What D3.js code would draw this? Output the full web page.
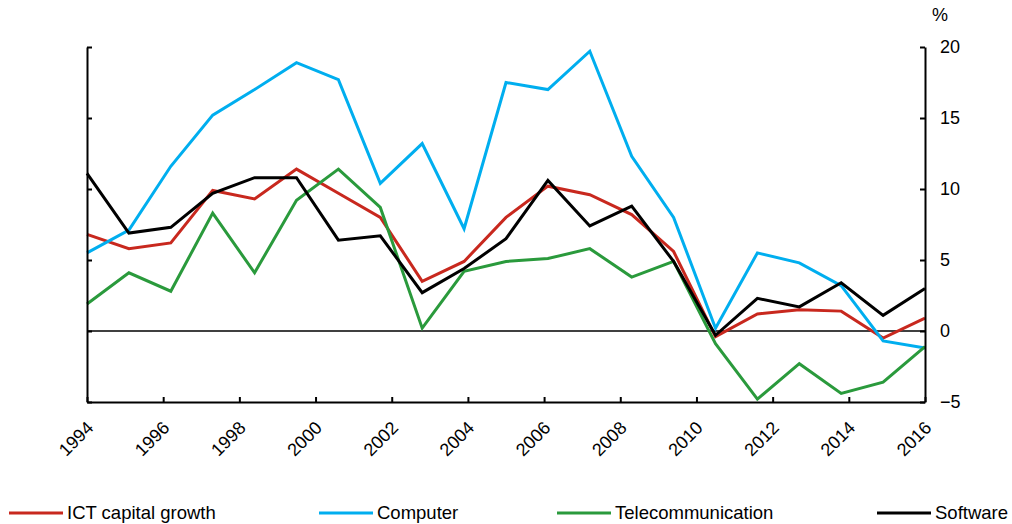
<!DOCTYPE html>
<html>
<head>
<meta charset="utf-8">
<script src="https://cdn.jsdelivr.net/npm/d3@7"></script>
<style>
  body { margin: 0; background: #fff; }
  text { font-family: "Liberation Sans", Arial, sans-serif; }
</style>
</head>
<body>
<script>
const width = 1012;
const height = 524;

// 21 observations, spread evenly over the 1994-2016 axis
const obsIndex = d3.range(21);

const ict = [6.8, 5.8, 6.2, 9.9, 9.3, 11.4, 9.7, 8.0, 3.5, 4.9, 8.0,
             10.2, 9.6, 8.2, 5.6, -0.4, 1.2, 1.5, 1.4, -0.5, 0.9];
const computer = [5.5, 7.1, 11.6, 15.2, 17.0, 18.9, 17.7, 10.4, 13.2, 7.2, 17.5,
                  17.0, 19.7, 12.3, 8.0, 0.2, 5.5, 4.8, 3.2, -0.7, -1.2];
const telecom = [1.9, 4.1, 2.8, 8.3, 4.1, 9.2, 11.4, 8.7, 0.2, 4.2, 4.9,
                 5.1, 5.8, 3.8, 4.9, -0.9, -4.8, -2.3, -4.4, -3.6, -1.1];
const software = [11.1, 6.9, 7.3, 9.7, 10.8, 10.8, 6.4, 6.7, 2.7, 4.4, 6.5,
                  10.6, 7.4, 8.8, 4.9, -0.3, 2.3, 1.7, 3.4, 1.1, 3.0];

const yearTicks = [1994, 1996, 1998, 2000, 2002, 2004, 2006, 2008, 2010, 2012, 2014, 2016];
const valueTicks = [20, 15, 10, 5, 0, -5];

const seriesNames = ["ICT capital growth", "Computer", "Telecommunication", "Software"];
const seriesValues = [ict, computer, telecom, software];
const seriesColors = ["#c8281e", "#00aeef", "#2a9a3c", "#000000"];

const plotLeft = 87, plotRight = 925, plotTop = 47, plotBottom = 402;

const svg = d3.select('body')
  .append('svg')
  .attr('width', width)
  .attr('height', height);

const xYear = d3.scaleLinear().domain([1994, 2016]).range([plotLeft, plotRight]);
const xObs = d3.scaleLinear().domain([0, 20]).range([plotLeft, plotRight]);
const y = d3.scaleLinear().domain([-5, 20]).range([plotBottom, plotTop]);

// zero line
svg.append("line")
  .attr("x1", plotLeft).attr("x2", plotRight)
  .attr("y1", y(0)).attr("y2", y(0))
  .attr("stroke", "#000")
  .attr("stroke-width", 1.5);

// series lines
const line = d3.line()
  .x((d, i) => xObs(obsIndex[i]))
  .y(d => y(d));

svg.append("g")
  .selectAll("path")
  .data(seriesValues)
  .enter().append("path")
  .attr("d", d => line(d))
  .attr("fill", "none")
  .attr("stroke", (d, i) => seriesColors[i])
  .attr("stroke-width", 3)
  .attr("stroke-linejoin", "miter");

// axes
const xAxis = svg.append("g")
  .attr("transform", "translate(0," + plotBottom + ")")
  .call(d3.axisBottom(xYear).tickValues(yearTicks).tickFormat(d3.format("d"))
    .tickSize(-5).tickSizeOuter(0));

xAxis.selectAll("text")
  .attr("x", 0).attr("y", 0).attr("dy", 0)
  .attr("transform", "translate(7,27) rotate(-45)")
  .style("text-anchor", "end")
  .style("font-size", "18px")
  .attr("fill", "#000");

const leftAxis = svg.append("g")
  .attr("transform", "translate(" + plotLeft + ",0)")
  .call(d3.axisLeft(y).tickValues(valueTicks).tickFormat("")
    .tickSize(-5).tickSizeOuter(0));

const rightAxis = svg.append("g")
  .attr("transform", "translate(" + plotRight + ",0)")
  .call(d3.axisRight(y).tickValues(valueTicks).tickFormat(d3.format("d"))
    .tickSize(-5).tickSizeOuter(0).tickPadding(15));

rightAxis.selectAll("text")
  .style("font-size", "18px")
  .attr("fill", "#000");

svg.selectAll(".domain, .tick line")
  .attr("stroke", "#000")
  .attr("stroke-width", 2);

svg.append("text")
  .attr("x", 932)
  .attr("y", 21)
  .style("font-size", "18px")
  .text("%");

// legend
const legendX = [9, 319, 557, 877];
const legend = svg.append("g")
  .selectAll("g")
  .data(seriesNames)
  .enter().append("g")
  .attr("transform", (d, i) => "translate(" + legendX[i] + ",513)");

legend.append("line")
  .attr("x1", 0).attr("x2", 54)
  .attr("stroke", (d, i) => seriesColors[i])
  .attr("stroke-width", 3);

legend.append("text")
  .attr("x", 58)
  .attr("dy", "0.35em")
  .style("font-size", "18.5px")
  .text(d => d);
</script>
</body>
</html>
